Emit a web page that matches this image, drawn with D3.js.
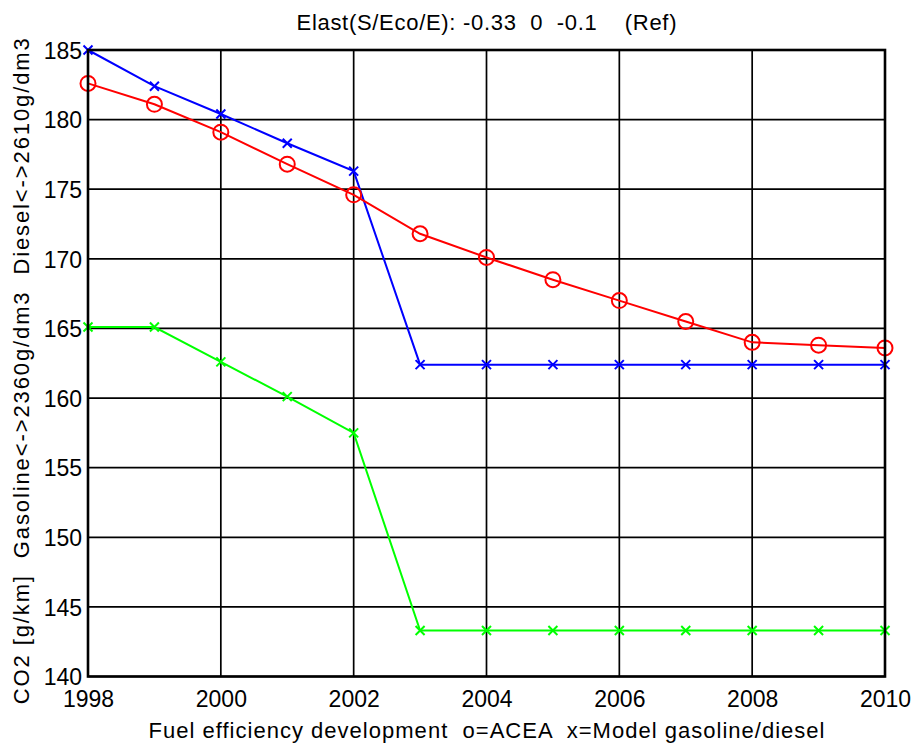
<!DOCTYPE html>
<html>
<head>
<meta charset="utf-8">
<script src="https://cdn.jsdelivr.net/npm/d3@7"></script>
<style>
  html, body { margin: 0; padding: 0; background: #fff; }
  svg { display: block; font-family: "Liberation Sans", Arial, sans-serif; }
</style>
</head>
<body>
<svg id="chart" width="914" height="744"></svg>
<script>
// Years on the x axis
const years = [1998, 1999, 2000, 2001, 2002, 2003, 2004, 2005, 2006, 2007, 2008, 2009, 2010];

// ACEA reference (circles, red)
const aceaValues = [182.6, 181.1, 179.1, 176.8, 174.6, 171.8, 170.1, 168.5, 167.0, 165.5, 164.0, 163.8, 163.6];

// Model, diesel (crosses, blue)
const dieselValues = [185.0, 182.4, 180.4, 178.3, 176.3, 162.4, 162.4, 162.4, 162.4, 162.4, 162.4, 162.4, 162.4];

// Model, gasoline (crosses, green)
const gasolineValues = [165.1, 165.1, 162.6, 160.1, 157.5, 143.3, 143.3, 143.3, 143.3, 143.3, 143.3, 143.3, 143.3];

// Tick labels
const xTicks = [1998, 2000, 2002, 2004, 2006, 2008, 2010];
const yTicks = [140, 145, 150, 155, 160, 165, 170, 175, 180, 185];

const titleText = "Elast(S/Eco/E): -0.33  0  -0.1    (Ref)";
const xLabelText = "Fuel efficiency development  o=ACEA  x=Model gasoline/diesel";
const yLabelText = "CO2 [g/km]  Gasoline<->2360g/dm3  Diesel<->2610g/dm3";

const FONT = "'Liberation Sans', Arial, sans-serif";
const svg = d3.select("#chart");
const W = 914, H = 744;
const margin = { left: 88, right: 29, top: 50, bottom: 67.5 };
const x0 = margin.left, x1 = W - margin.right;
const y0 = margin.top, y1 = H - margin.bottom;

const x = d3.scaleLinear().domain([1998, 2010]).range([x0, x1]);
const y = d3.scaleLinear().domain([140, 185]).range([y1, y0]);

// Grid
const grid = svg.append("g");
grid.selectAll("line.gx").data(xTicks).join("line")
  .attr("x1", d => x(d)).attr("x2", d => x(d))
  .attr("y1", y0).attr("y2", y1)
  .attr("stroke", "#000").attr("stroke-width", 1.7);
grid.selectAll("line.gy").data(yTicks).join("line")
  .attr("y1", d => y(d)).attr("y2", d => y(d))
  .attr("x1", x0).attr("x2", x1)
  .attr("stroke", "#000").attr("stroke-width", 1.7);

// Axes (tick labels only; frame drawn separately)
const xAxis = d3.axisBottom(x).tickValues(xTicks).tickFormat(d3.format("d")).tickSize(0).tickPadding(0);
const yAxis = d3.axisLeft(y).tickValues(yTicks).tickSize(0).tickPadding(0);

const gx = svg.append("g").attr("transform", `translate(0,${y1})`).call(xAxis);
gx.select(".domain").remove();
gx.selectAll("text")
  .attr("y", 30.5).attr("dy", 0)
  .attr("font-size", 23).attr("font-family", FONT)
  .attr("fill", "#000");

const gy = svg.append("g").attr("transform", `translate(${x0},0)`).call(yAxis);
gy.select(".domain").remove();
gy.selectAll("text")
  .attr("x", -6).attr("dy", "0.36em")
  .attr("font-size", 23).attr("font-family", FONT)
  .attr("fill", "#000");

// Series
const line = d3.line().x(d => x(d[0])).y(d => y(d[1]));
const series = [
  { values: dieselValues, color: "#0000ff", marker: "x" },
  { values: aceaValues, color: "#ff0000", marker: "o" },
  { values: gasolineValues, color: "#00ff00", marker: "x" }
];

series.forEach(s => {
  const pts = years.map((yr, i) => [yr, s.values[i]]);
  svg.append("path").datum(pts)
    .attr("d", line).attr("fill", "none")
    .attr("stroke", s.color).attr("stroke-width", 2);
  const g = svg.append("g");
  if (s.marker === "o") {
    g.selectAll("circle").data(pts).join("circle")
      .attr("cx", d => x(d[0])).attr("cy", d => y(d[1])).attr("r", 7.5)
      .attr("fill", "none").attr("stroke", s.color).attr("stroke-width", 2);
  } else {
    const r = 4.5;
    g.selectAll("path").data(pts).join("path")
      .attr("d", d => {
        const cx = x(d[0]), cy = y(d[1]);
        return `M${cx - r},${cy - r}L${cx + r},${cy + r}M${cx - r},${cy + r}L${cx + r},${cy - r}`;
      })
      .attr("fill", "none").attr("stroke", s.color).attr("stroke-width", 2);
  }
});

// Frame
svg.append("rect")
  .attr("x", x0).attr("y", y0).attr("width", x1 - x0).attr("height", y1 - y0)
  .attr("fill", "none").attr("stroke", "#000").attr("stroke-width", 2.6);

// Title
svg.append("text")
  .attr("x", (x0 + x1) / 2).attr("y", 30)
  .attr("text-anchor", "middle").attr("font-size", 22).attr("font-family", FONT)
  .attr("textLength", 380).attr("lengthAdjust", "spacing")
  .style("white-space", "pre")
  .text(titleText);

// X label
svg.append("text")
  .attr("x", (x0 + x1) / 2).attr("y", 738)
  .attr("text-anchor", "middle").attr("font-size", 22).attr("font-family", FONT)
  .attr("textLength", 676).attr("lengthAdjust", "spacing")
  .style("white-space", "pre")
  .text(xLabelText);

// Y label
svg.append("text")
  .attr("transform", `translate(29,${(y0 + y1) / 2 + 8}) rotate(-90)`)
  .attr("text-anchor", "middle").attr("font-size", 22).attr("font-family", FONT)
  .attr("textLength", 666).attr("lengthAdjust", "spacing")
  .style("white-space", "pre")
  .text(yLabelText);
</script>
</body>
</html>
